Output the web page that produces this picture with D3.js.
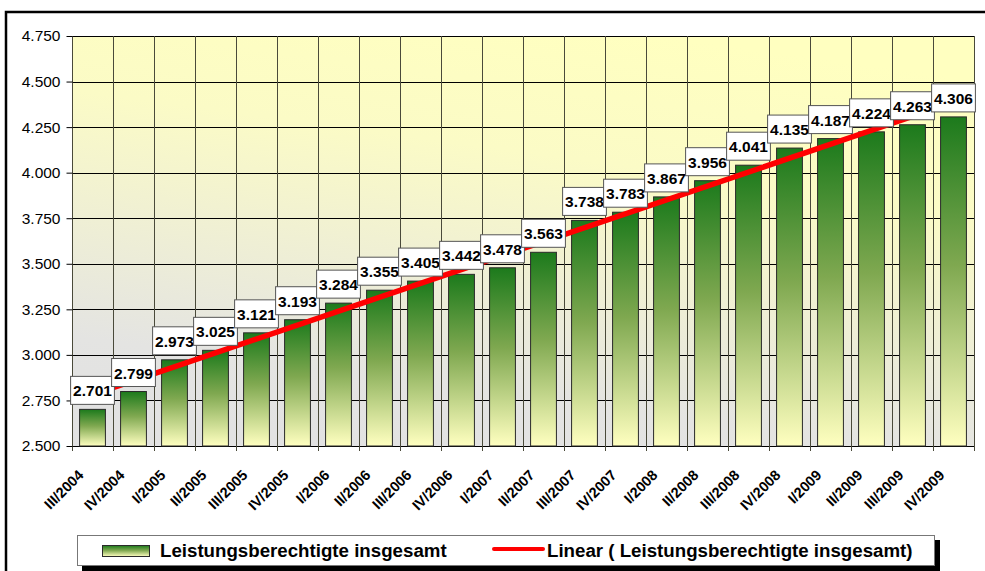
<!DOCTYPE html>
<html>
<head>
<meta charset="utf-8">
<script src="https://cdn.jsdelivr.net/npm/d3@7"></script>
<style>
    body { margin: 0; background: #fff; }
    text { font-family: Arial, "Liberation Sans", sans-serif; }
</style>
</head>
<body>
<div id="chart"></div>
<script>
// quarters on the x axis
const quarters = ["III/2004", "IV/2004", "I/2005", "II/2005", "III/2005", "IV/2005",
    "I/2006", "II/2006", "III/2006", "IV/2006", "I/2007", "II/2007", "III/2007", "IV/2007",
    "I/2008", "II/2008", "III/2008", "IV/2008", "I/2009", "II/2009", "III/2009", "IV/2009"]

// Leistungsberechtigte insgesamt
const values = [2701, 2799, 2973, 3025, 3121, 3193, 3284, 3355, 3405, 3442, 3478,
    3563, 3738, 3783, 3867, 3956, 4041, 4135, 4187, 4224, 4263, 4306]

// linear trend, value at first and last quarter
const trend = [2782, 4385]

const yTicks = [2500, 2750, 3000, 3250, 3500, 3750, 4000, 4250, 4500, 4750]

const seriesName = "Leistungsberechtigte insgesamt"
const trendName = "Linear ( Leistungsberechtigte insgesamt)"

const drawChart = () => {
    const width = 985,
        height = 571
    const margin = ({ top: 36, right: 11, bottom: 125, left: 72 })

    const de = d3.formatLocale({ decimal: ",", thousands: ".", grouping: [3], currency: ["", " €"] })
    const fmt = de.format(",")

    const svg = d3.select("#chart").append("svg")
        .attr("width", width)
        .attr("height", height)

    const defs = svg.append("defs")

    const bg = defs.append("linearGradient")
        .attr("id", "plot-bg")
        .attr("x1", 0.65).attr("y1", 0).attr("x2", 0.35).attr("y2", 1)
    bg.append("stop").attr("offset", 0).attr("stop-color", "#ffffc0")
    bg.append("stop").attr("offset", 0.3).attr("stop-color", "#fbfbc6")
    bg.append("stop").attr("offset", 0.85).attr("stop-color", "#e4e4e2")
    bg.append("stop").attr("offset", 1).attr("stop-color", "#e2e2e2")

    const barGrad = defs.append("linearGradient")
        .attr("id", "bar-fill")
        .attr("x1", 0).attr("y1", 0).attr("x2", 0).attr("y2", 1)
    barGrad.append("stop").attr("offset", 0).attr("stop-color", "#1c7a1c")
    barGrad.append("stop").attr("offset", 0.45).attr("stop-color", "#7fa850")
    barGrad.append("stop").attr("offset", 1).attr("stop-color", "#ffffc0")

    // outer frame
    svg.append("rect")
        .attr("x", 6).attr("y", 12)
        .attr("width", 1000).attr("height", 600)
        .attr("fill", "#fff")
        .attr("stroke", "#000")
        .attr("stroke-width", 2.5)

    const x = d3.scaleBand()
        .domain(quarters)
        .range([margin.left, width - margin.right])

    const y = d3.scaleLinear()
        .domain([2500, 4750])
        .range([height - margin.bottom, margin.top])

    const plotW = x.range()[1] - x.range()[0]
    const plotH = y(2500) - y(4750)

    svg.append("rect")
        .attr("x", margin.left)
        .attr("y", margin.top)
        .attr("width", plotW)
        .attr("height", plotH)
        .attr("fill", "url(#plot-bg)")

    // horizontal grid
    svg.append("g")
        .selectAll("line")
        .data(yTicks)
        .join("line")
        .attr("x1", margin.left)
        .attr("x2", width - margin.right)
        .attr("y1", d => Math.round(y(d)) + 0.5)
        .attr("y2", d => Math.round(y(d)) + 0.5)
        .attr("stroke", "#000")

    // vertical grid at category edges
    const edges = quarters.map(q => x(q)).concat([width - margin.right])
    svg.append("g")
        .selectAll("line")
        .data(edges)
        .join("line")
        .attr("x1", d => Math.round(d) + 0.5)
        .attr("x2", d => Math.round(d) + 0.5)
        .attr("y1", margin.top)
        .attr("y2", y(2500) + 5)
        .attr("stroke", "#4a4a3a")

    // y axis
    const yAxis = g => g
        .attr("transform", `translate(${margin.left + 0.5},0)`)
        .call(d3.axisLeft(y).tickValues(yTicks).tickFormat(fmt).tickSize(6).tickPadding(6))
        .call(g => g.selectAll(".domain").remove())
        .call(g => g.selectAll(".tick line").attr("stroke", "#000"))
        .call(g => g.selectAll(".tick text")
            .attr("font-size", "15.5px")
            .attr("font-family", "Arial, 'Liberation Sans', sans-serif")
            .attr("fill", "#000"))

    svg.append("g").call(yAxis)

    // x labels, rotated
    svg.append("g")
        .selectAll("text")
        .data(quarters)
        .join("text")
        .attr("transform", d => `translate(${x(d) + x.bandwidth() / 2 - 8},${y(2500) + 30}) rotate(-45)`)
        .attr("text-anchor", "end")
        .attr("font-size", "14.5px")
        .attr("font-weight", "bold")
        .attr("fill", "#000")
        .text(d => d)

    // bars
    const barW = x.bandwidth() * 0.63
    svg.append("g")
        .selectAll("rect")
        .data(values)
        .join("rect")
        .attr("x", (d, i) => x(quarters[i]) + (x.bandwidth() - barW) / 2)
        .attr("y", d => y(d))
        .attr("width", barW)
        .attr("height", d => y(2500) - y(d))
        .attr("fill", "url(#bar-fill)")
        .attr("stroke", "#2a2a2a")
        .attr("stroke-width", 1)

    // trend line
    const first = quarters[0], last = quarters[quarters.length - 1]
    svg.append("line")
        .attr("x1", x(first) + x.bandwidth() / 2)
        .attr("y1", y(trend[0]))
        .attr("x2", x(last) + x.bandwidth() / 2)
        .attr("y2", y(trend[1]))
        .attr("stroke", "#ff0000")
        .attr("stroke-width", 5.5)

    // data labels
    const lab = svg.append("g")
        .selectAll("g")
        .data(values)
        .join("g")
        .attr("transform", (d, i) => `translate(${x(quarters[i]) + x.bandwidth() / 2},${y(d) - 5})`)

    const boxes = lab.append("rect")
        .attr("fill", "#fff")
        .attr("stroke", "#555")
        .attr("stroke-width", 1)

    const labText = lab.append("text")
        .attr("text-anchor", "middle")
        .attr("y", -8)
        .attr("font-size", "15.5px")
        .attr("font-weight", "bold")
        .attr("fill", "#000")
        .text(d => fmt(d))

    labText.each(function (d, i) {
        const w = this.getComputedTextLength() + 5
        d3.select(boxes.nodes()[i])
            .attr("x", -w / 2)
            .attr("y", -28)
            .attr("width", w)
            .attr("height", 28)
    })

    // legend
    const lg = svg.append("g")
    lg.append("rect")
        .attr("x", 82).attr("y", 540)
        .attr("width", 858).attr("height", 31)
        .attr("fill", "#000")
    lg.append("rect")
        .attr("x", 77.5).attr("y", 535.5)
        .attr("width", 857).attr("height", 30)
        .attr("fill", "#fff")
        .attr("stroke", "#777")
    lg.append("rect")
        .attr("x", 102.5).attr("y", 545.5)
        .attr("width", 47).attr("height", 11)
        .attr("fill", "url(#bar-fill)")
        .attr("stroke", "#2a2a2a")
    lg.append("text")
        .attr("x", 160).attr("y", 557)
        .attr("font-size", "18.7px")
        .attr("font-weight", "bold")
        .text(seriesName)
    lg.append("line")
        .attr("x1", 494).attr("x2", 543)
        .attr("y1", 549).attr("y2", 549)
        .attr("stroke", "#ff0000")
        .attr("stroke-width", 4)
        .attr("stroke-linecap", "round")
    lg.append("text")
        .attr("x", 547).attr("y", 557)
        .attr("font-size", "18.7px")
        .attr("font-weight", "bold")
        .text(trendName)
}

drawChart()
</script>
</body>
</html>
